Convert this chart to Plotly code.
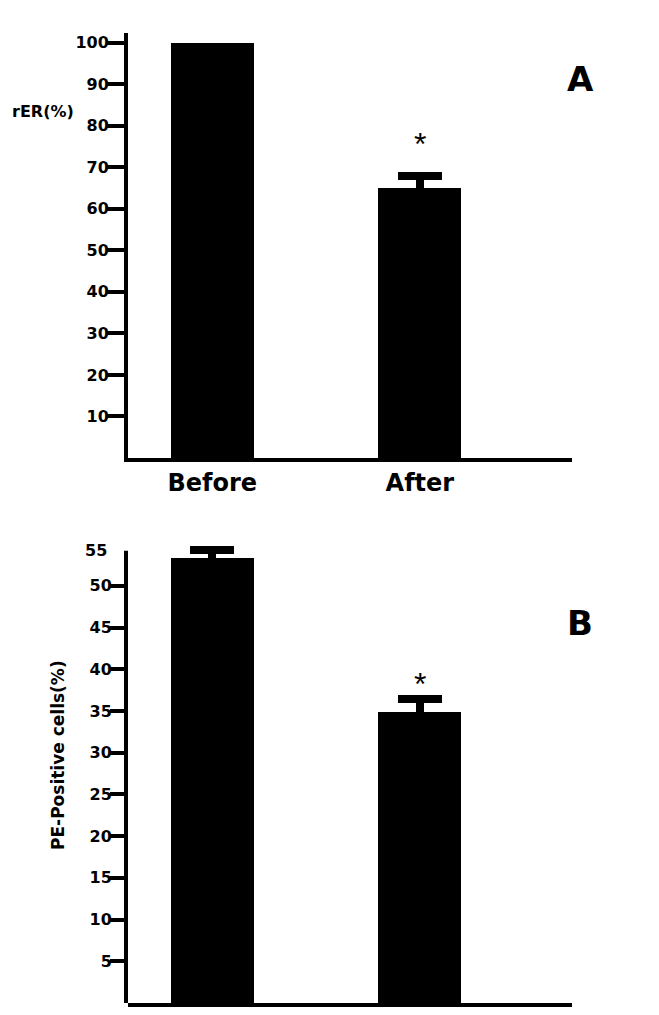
import plotly.graph_objects as go

categories = ["Before", "After"]
rer_values = [100, 65.0]
rer_errors = [0, 3.0]
pe_values = [53.3, 34.9]
pe_errors = [1.0, 1.5]
rer_ticks = [10, 20, 30, 40, 50, 60, 70, 80, 90, 100]
pe_ticks = [5, 10, 15, 20, 25, 30, 35, 40, 45, 50]
pe_axis_top = 54.2
pe_top_label = 55

# page body has an 8px default margin; size/position the figure to compensate
OFF = 8
W, H = 659 - OFF, 1015 - OFF
FONT = "DejaVu Sans"

def px(x):
    return (x - OFF) / W

def py(y):
    return 1 - (y - OFF) / H

xpos = [0, 1]
bar_style = dict(width=0.40, marker=dict(color="black", line=dict(width=0)), showlegend=False, cliponaxis=False)
err_style = dict(type="data", visible=True, color="black", thickness=8, width=22)

fig = go.Figure()
# Panel A: "Before" has no error bar, "After" does
fig.add_trace(go.Bar(x=[xpos[0]], y=[rer_values[0]], xaxis="x", yaxis="y", **bar_style))
fig.add_trace(go.Bar(x=[xpos[1]], y=[rer_values[1]], error_y=dict(array=[rer_errors[1]], **err_style),
                     xaxis="x", yaxis="y", **bar_style))
# Panel B
fig.add_trace(go.Bar(x=xpos, y=pe_values, error_y=dict(array=pe_errors, **err_style),
                     xaxis="x2", yaxis="y2", **bar_style))

xr = [-0.406, 1.733]
tickfont = dict(family=FONT, size=16, color="black", weight="bold")
common_x = dict(range=xr, showline=True, linewidth=4, linecolor="black", showgrid=False,
                zeroline=False, ticks="", fixedrange=True)
common_y = dict(showgrid=False, zeroline=False, ticks="outside", ticklen=17, tickwidth=4,
                tickcolor="black", tickfont=tickfont, ticklabelstandoff=-5)

fig.update_layout(
    width=W, height=H, margin=dict(l=0, r=0, t=0, b=0),
    paper_bgcolor="white", plot_bgcolor="white", bargap=0, barmode="overlay",
    xaxis=dict(domain=[px(128), px(572)], anchor="y", tickvals=xpos, ticktext=categories,
               showticklabels=True, tickfont=dict(family=FONT, size=24, color="black", weight="bold"),
               **common_x),
    yaxis=dict(domain=[py(458), py(33)], anchor="x", range=[0, 102.3], tickvals=rer_ticks,
               showline=True, linewidth=4, linecolor="black", **common_y),
    xaxis2=dict(domain=[px(128), px(572)], anchor="y2", showticklabels=False, **common_x),
    yaxis2=dict(domain=[py(1003), py(540)], anchor="x2", range=[0, 55.5], tickvals=pe_ticks,
                showline=False, **common_y),
    shapes=[
        dict(type="line", xref="paper", yref="y2", x0=px(126), x1=px(126), y0=-0.25, y1=pe_axis_top,
             line=dict(color="black", width=4)),
    ],
    annotations=[
        dict(text="rER(%)", x=px(10), y=py(112), xref="paper", yref="paper", xanchor="left",
             yanchor="middle", showarrow=False, font=dict(family=FONT, size=16, color="black", weight="bold")),
        dict(text="PE-Positive cells(%)", x=px(58), y=py(755), xref="paper", yref="paper", textangle=-90,
             xanchor="center", yanchor="middle", showarrow=False,
             font=dict(family=FONT, size=17, color="black", weight="bold")),
        dict(text=str(pe_top_label), x=px(109), y=py(550), xref="paper", yref="paper", xanchor="right",
             yanchor="middle", showarrow=False, font=tickfont),
        dict(text="A", x=px(580), y=py(79), xref="paper", yref="paper", xanchor="center", yanchor="middle",
             showarrow=False, font=dict(family=FONT, size=34, color="black", weight="bold")),
        dict(text="B", x=px(580), y=py(623), xref="paper", yref="paper", xanchor="center", yanchor="middle",
             showarrow=False, font=dict(family=FONT, size=34, color="black", weight="bold")),
        dict(text="*", x=1, y=rer_values[1] + rer_errors[1], xref="x", yref="y", yshift=31, showarrow=False,
             font=dict(family="Liberation Sans", size=32, color="black")),
        dict(text="*", x=1, y=pe_values[1] + pe_errors[1], xref="x2", yref="y2", yshift=15, showarrow=False,
             font=dict(family="Liberation Sans", size=32, color="black")),
    ],
)

fig.write_html("out.html")
